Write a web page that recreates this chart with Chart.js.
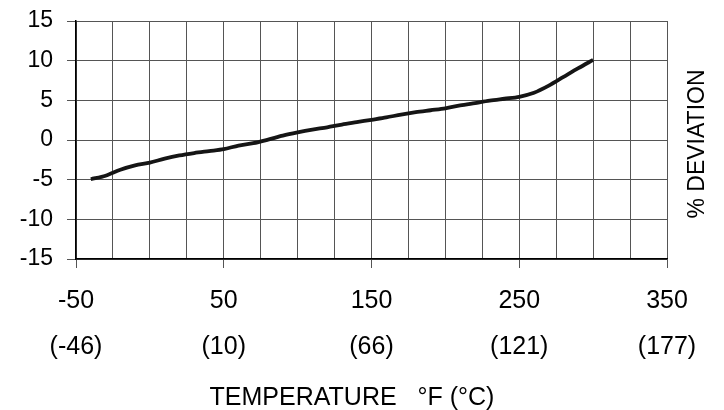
<!DOCTYPE html>
<html>
<head>
<meta charset="utf-8">
<script src="https://cdn.jsdelivr.net/npm/chart.js@4/dist/chart.umd.min.js"></script>
<style>
  html, body { margin: 0; padding: 0; background: #fff; }
  #wrap { width: 724px; height: 410px; }
</style>
</head>
<body>
<div id="wrap"><canvas id="grafico"></canvas></div>
<script>
// temperatura en °F y desviación en %
const temperaturas = [-40, -30, -20, -10, 0, 10, 20, 30, 40, 50, 60, 70, 80, 90, 100, 110, 120, 130, 140, 150,
  160, 170, 180, 190, 200, 210, 220, 230, 240, 250, 260, 270, 280, 290, 300];
const desviacion = [-4.95, -4.5, -3.75, -3.2, -2.85, -2.35, -1.95, -1.65, -1.4, -1.15, -0.7, -0.4, 0.05, 0.55, 0.95,
  1.3, 1.6, 1.95, 2.25, 2.55, 2.85, 3.2, 3.5, 3.75, 4.0, 4.35, 4.65, 4.95, 5.2, 5.45, 5.95, 6.85, 7.95, 9.05, 10.1];

const ticksF = [-50, 50, 150, 250, 350];
const ticksC = ["(-46)", "(10)", "(66)", "(121)", "(177)"];
const ticksY = [-15, -10, -5, 0, 5, 10, 15];

const tituloX = "TEMPERATURE   °F (°C)";
const tituloY = "% DEVIATION";

const fuente = "'Liberation Sans', Arial, sans-serif";

const textos = {
  id: "textos",
  afterDraw(chart) {
    const ctx = chart.ctx;
    ctx.save();
    ctx.fillStyle = "#000";
    ctx.font = "23px " + fuente;
    ctx.textAlign = "center";
    ctx.textBaseline = "middle";
    ctx.translate(698, 144);
    ctx.rotate(-Math.PI / 2);
    ctx.fillText(tituloY, 0, 0);
    ctx.restore();

    ctx.save();
    ctx.fillStyle = "#000";
    ctx.font = "25px " + fuente;
    ctx.textAlign = "center";
    ctx.textBaseline = "middle";
    ctx.fillText(tituloX, 352, 398);
    ctx.restore();
  }
};

new Chart(document.getElementById("grafico"), {
  type: "line",
  data: {
    datasets: [{
      data: temperaturas.map((t, i) => ({ x: t, y: desviacion[i] })),
      borderColor: "#151515",
      borderWidth: 3.8,
      pointRadius: 0,
      tension: 0.3,
      fill: false
    }]
  },
  options: {
    responsive: true,
    maintainAspectRatio: false,
    animation: false,
    layout: { padding: { left: 0, right: 57, top: 21, bottom: 40 } },
    plugins: { legend: { display: false }, tooltip: { enabled: false } },
    scales: {
      x: {
        type: "linear",
        min: -50,
        max: 350,
        afterFit: (scale) => {
          scale.height = 111;
          scale.paddingLeft = 0;
          scale.paddingRight = 0;
        },
        afterBuildTicks: (scale) => {
          const t = [];
          for (let v = -50; v <= 350; v += 25) t.push({ value: v });
          scale.ticks = t;
        },
        grid: {
          color: "#555",
          lineWidth: 1,
          tickLength: 9,
          tickColor: (ctx) => ticksF.includes(ctx.tick && ctx.tick.value) ? "#555" : "rgba(0,0,0,0)"
        },
        border: { color: "#000", width: 1.5 },
        ticks: {
          autoSkip: false,
          maxRotation: 0,
          padding: 10,
          color: "#000",
          font: { family: fuente, size: 25, lineHeight: 1.84 },
          callback: (v) => {
            const i = ticksF.indexOf(v);
            return i >= 0 ? [String(v), ticksC[i]] : "";
          }
        }
      },
      y: {
        min: -15,
        max: 15,
        afterFit: (scale) => {
          scale.width = 76;
          scale.paddingTop = 0;
          scale.paddingBottom = 0;
        },
        afterBuildTicks: (scale) => { scale.ticks = ticksY.map(v => ({ value: v })); },
        grid: { color: "#555", lineWidth: 1, tickLength: 9, tickColor: "#555" },
        border: { color: "#000", width: 1.5 },
        ticks: {
          padding: 14,
          color: "#000",
          font: { family: fuente, size: 23 }
        }
      }
    }
  },
  plugins: [textos]
});
</script>
</body>
</html>
